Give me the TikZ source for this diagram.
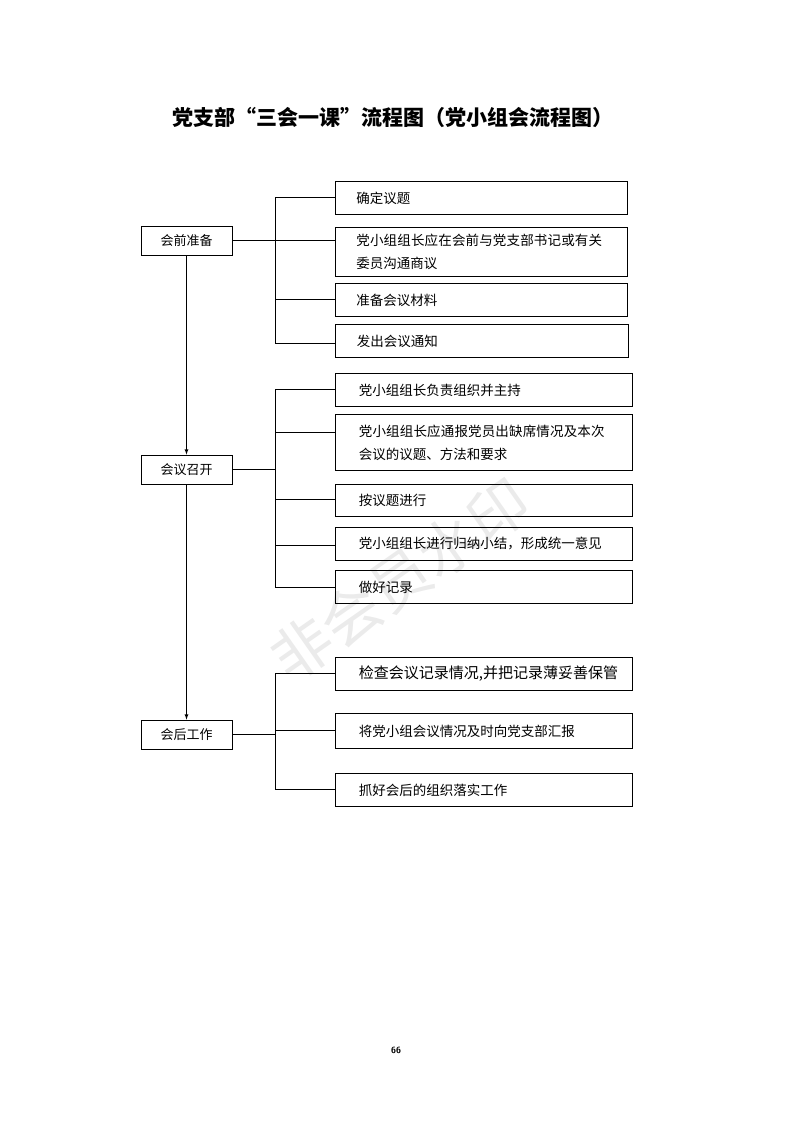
\documentclass[tikz,border=0pt]{standalone}
\usepackage{fontspec}
\newfontfamily\cjk{Noto Sans CJK SC}
\XeTeXlinebreaklocale "zh"
\XeTeXlinebreakskip = 0pt plus 1pt
\tikzset{
 rbox/.style={draw,thick,anchor=north west,inner xsep=11pt,inner ysep=0pt,align=left},
 lbox/.style={draw,thick,inner sep=0pt,font=\cjk\fontsize{13}{16}\selectfont},
 ln/.style={thick},
}
\begin{document}
\begin{tikzpicture}[x=1pt,y=-1pt,font=\cjk\fontsize{13.5}{23}\selectfont]
\useasboundingbox (0,0) rectangle (793,1122);
\node[text=black!8,rotate=35,font=\cjk\fontsize{60}{60}\selectfont] (wm) at (400,580) {非会员水印};
\node[font=\cjk\bfseries\fontsize{21}{24}\selectfont] (t) at (393,117) {党支部“三会一课”流程图（党小组会流程图）};
% left boxes
\node[lbox,minimum width=91,minimum height=29] (a) at (186.5,240.5) {会前准备};
\node[lbox,minimum width=91,minimum height=29] (b) at (186.5,469.5) {会议召开};
\node[lbox,minimum width=91,minimum height=29] (c) at (186.5,734.5) {会后工作};
\draw[ln,-latex] (a) -- (b);
\draw[ln,-latex] (b) -- (c);
% right boxes
\newcommand{\rb}[5]{\node[rbox,minimum width=#3,minimum height=#4,text width=250pt] (#1) at (335,#2) {#5};}
\rb{a1}{181}{292}{33}{确定议题}
\rb{a2}{227}{292}{49}{党小组组长应在会前与党支部书记或有关委员沟通商议}
\rb{a3}{283}{292}{33}{准备会议材料}
\rb{a4}{324}{293}{33}{发出会议通知}
\rb{b1}{373}{297}{33}{党小组组长负责组织并主持}
\rb{b2}{414}{297}{56}{党小组组长应通报党员出缺席情况及本次会议的议题、方法和要求}
\rb{b3}{484}{297}{32}{按议题进行}
\rb{b4}{527}{297}{33}{党小组组长进行归纳小结，形成统一意见}
\rb{b5}{570}{297}{33}{做好记录}
\rb{c1}{657}{297}{33}{\fontsize{15}{18}\selectfont\mbox{检查会议记录情况,并把记录薄妥善保管}}
\rb{c2}{713}{297}{35}{将党小组会议情况及时向党支部汇报}
\rb{c3}{773}{297}{33}{抓好会后的组织落实工作}
% brackets
\draw[ln] (a.east) -- (275,240.5);
\draw[ln] (a1.west|-0,197) -| (275,343) -- (a4.west|-0,343);
\draw[ln] (275,240) -- (a2.west|-0,240);
\draw[ln] (275,299) -- (a3.west|-0,299);
\draw[ln] (b.east) -- (275,469.5);
\draw[ln] (b1.west|-0,389) -| (275,587) -- (b5.west|-0,587);
\draw[ln] (275,432) -- (b2.west|-0,432);
\draw[ln] (275,499) -- (b3.west|-0,499);
\draw[ln] (275,545) -- (b4.west|-0,545);
\draw[ln] (c.east) -- (275,734.5);
\draw[ln] (c1.west|-0,673) -| (275,789) -- (c3.west|-0,789);
\draw[ln] (275,730) -- (c2.west|-0,730);
\node[font=\sffamily\bfseries\fontsize{9}{10}\selectfont] (pg) at (396,1050) {66};
\end{tikzpicture}
\end{document}
